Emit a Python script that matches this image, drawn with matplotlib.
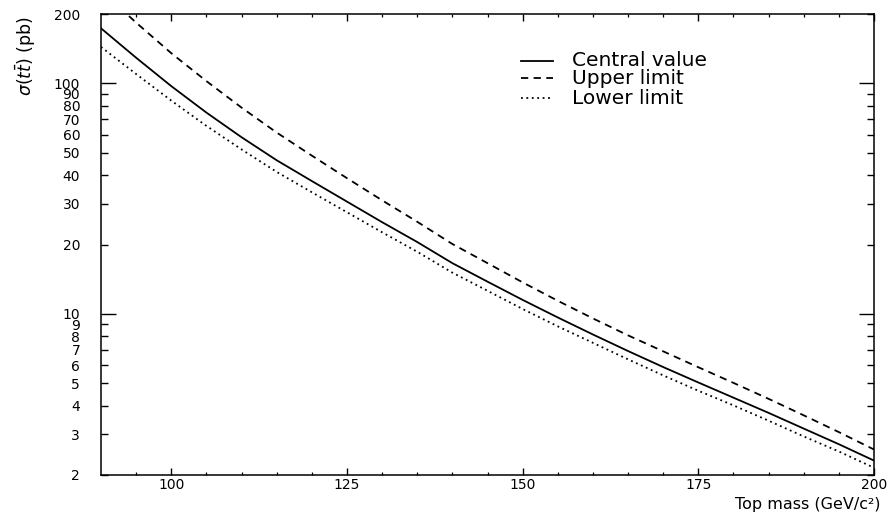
import matplotlib
matplotlib.use("Agg")
import matplotlib.pyplot as plt
from matplotlib.ticker import FixedLocator, FixedFormatter, NullFormatter

# ---- data ----
top_mass = [90, 95, 100, 105, 110, 115, 120, 125, 130, 135, 140, 145,
            150, 155, 160, 165, 170, 175, 180, 185, 190, 195, 200]
central = [173.4, 129.2, 97.3, 74.7, 58.4, 46.4, 37.7, 30.7, 25.0, 20.5, 16.6, 13.8,
           11.5, 9.65, 8.14, 6.90, 5.88, 5.04, 4.33, 3.72, 3.18, 2.72, 2.31]
upper = [253.0, 183.5, 135.2, 102.3, 78.5, 61.2, 48.6, 38.8, 31.1, 25.1, 20.1, 16.6,
         13.7, 11.4, 9.56, 8.07, 6.88, 5.87, 5.02, 4.28, 3.63, 3.07, 2.58]
lower = [143.9, 109.8, 84.2, 65.4, 51.7, 41.3, 33.7, 27.6, 22.6, 18.6, 15.1, 12.6,
         10.5, 8.83, 7.49, 6.35, 5.41, 4.64, 4.01, 3.44, 2.94, 2.53, 2.15]

series_labels = ["Central value", "Upper limit", "Lower limit"]
x_major = [100, 125, 150, 175, 200]
x_minor = [95, 105, 110, 115, 120, 130, 135, 140, 145, 155, 160, 165, 170, 180, 185, 190, 195]
y_major = [10, 100]
y_minor = [2, 3, 4, 5, 6, 7, 8, 9, 20, 30, 40, 50, 60, 70, 80, 90, 200]

plt.rcParams['font.family'] = ['DejaVu Sans']

fig = plt.figure(figsize=(8.92, 5.13), dpi=100)
ax = fig.add_axes([101/892, 1 - 475/513, 773/892, 461/513])

lw = 1.3
ax.plot(top_mass, central, color='black', lw=lw, ls='-')
ax.plot(top_mass, upper, color='black', lw=lw, ls=(0, (4, 3)))
ax.plot(top_mass, lower, color='black', lw=lw, ls=(0, (1, 2)))

ax.set_yscale('log')
ax.set_xlim(90, 200)
ax.set_ylim(2, 200)

ax.xaxis.set_major_locator(FixedLocator(x_major))
ax.xaxis.set_minor_locator(FixedLocator(x_minor))
ax.xaxis.set_major_formatter(FixedFormatter([str(v) for v in x_major]))
ax.xaxis.set_minor_formatter(NullFormatter())

ax.yaxis.set_major_locator(FixedLocator(y_major))
ax.yaxis.set_minor_locator(FixedLocator(y_minor))
ax.yaxis.set_major_formatter(FixedFormatter([str(v) for v in y_major]))
ax.yaxis.set_minor_formatter(FixedFormatter([str(v) for v in y_minor]))

ax.tick_params(axis='x', which='both', direction='in', top=True, bottom=True, labelsize=10, pad=2)
ax.tick_params(axis='x', which='major', length=5, width=1)
ax.tick_params(axis='x', which='minor', length=2.2, width=0.9)
ax.tick_params(axis='y', which='both', direction='in', left=True, right=True, labelsize=10, pad=15)
ax.tick_params(axis='y', which='major', length=10.5, width=1)
ax.tick_params(axis='y', which='minor', length=5, width=1)

for s in ax.spines.values():
    s.set_linewidth(1.1)

ax.set_xlabel("Top mass (GeV/c²)", fontsize=11.5, loc='right')
ax.xaxis.set_label_coords(1.008, (475 - 512.5) / 461)
ax.xaxis.label.set_va('bottom')

ax.set_ylabel(r"$\sigma(t\bar{t})$ (pb)", fontsize=12.5, loc='top')
ax.yaxis.set_label_coords(-0.082, 0.995)

# legend (manual, in axes coordinates)
styles = ['-', (0, (4, 3)), (0, (1, 2))]
leg_y_px = [60.5, 78, 98]
for lab, st, ypx in zip(series_labels, styles, leg_y_px):
    yf = (475 - ypx) / 461
    ax.plot([(521 - 101) / 773, (553 - 101) / 773], [yf, yf], transform=ax.transAxes,
            color='black', lw=lw, ls=st)
    ax.text((572 - 101) / 773, yf, lab, transform=ax.transAxes, fontsize=14.5,
            va='center', ha='left')

fig.savefig("out.png", dpi=100)
